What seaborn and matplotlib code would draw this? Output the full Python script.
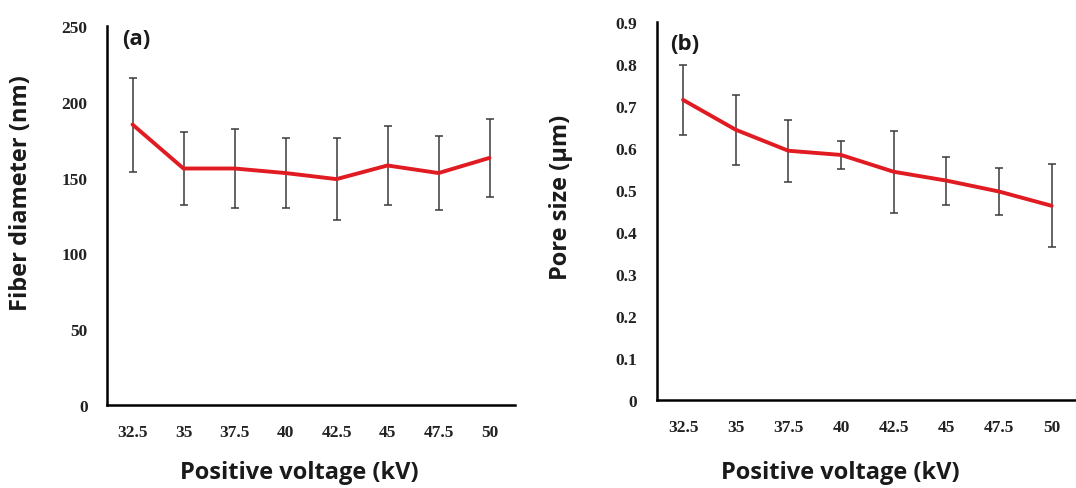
import matplotlib
matplotlib.use("Agg")
import matplotlib.pyplot as plt
import seaborn as sns
import numpy as np
import pandas as pd

voltage = [32.5, 35, 37.5, 40, 42.5, 45, 47.5, 50]
voltage_labels = ["32.5", "35", "37.5", "40", "42.5", "45", "47.5", "50"]

fiber_mean = [185, 156, 156, 153, 149, 158, 153, 163]
fiber_err = [31, 24, 26, 23, 27, 26, 24.5, 25.5]

pore_mean = [0.714, 0.643, 0.593, 0.583, 0.543, 0.522, 0.496, 0.462]
pore_err = [0.083, 0.083, 0.074, 0.034, 0.097, 0.057, 0.057, 0.099]

fiber_ticks = [0, 50, 100, 150, 200, 250]
pore_ticks = [0, 0.1, 0.2, 0.3, 0.4, 0.5, 0.6, 0.7, 0.8, 0.9]
pore_tick_labels = ["0", "0.1", "0.2", "0.3", "0.4", "0.5", "0.6", "0.7", "0.8", "0.9"]

sns.set_theme(style="white")
plt.rcParams['font.family'] = ['Liberation Serif', 'DejaVu Sans']

fig = plt.figure(figsize=(10.76, 4.89), dpi=100)
ax1 = fig.add_axes([107/1076, 83/489, 408/1076, 379/489])
ax2 = fig.add_axes([656.7/1076, 88/489, 421.3/1076, 378.3/489])

RED = "#e01b22"
ERR = "#3a3a3a"
label_font = dict(family="Open Sans", fontweight="bold", fontsize=17, color="#1a1a1a")
tick_font = dict(family="Liberation Serif", fontweight="bold", fontsize=12.5, color="#222222")

def draw(ax, mean, err, ylim, yticks, yticklabels, ylabel, panel, ylab_pos, xlab_pos, panel_pos):
    df = pd.DataFrame({"v": voltage, "m": mean})
    ax.errorbar(voltage, mean, yerr=err, fmt="none", ecolor=ERR, elinewidth=1.1,
                capsize=3, capthick=1.1, zorder=2)
    sns.lineplot(data=df, x="v", y="m", ax=ax, color=RED, linewidth=2.8, zorder=3)
    ax.set_xlim(voltage[0] - 1.25, voltage[-1] + 1.25)
    ax.set_ylim(*ylim)
    ax.set_xticks(voltage)
    ax.set_xticklabels(voltage_labels, **tick_font)
    ax.set_yticks(yticks)
    ax.set_yticklabels(yticklabels, **tick_font)
    ax.tick_params(axis="both", length=0, pad=14)
    for s in ["top", "right"]:
        ax.spines[s].set_visible(False)
    for s in ["left", "bottom"]:
        ax.spines[s].set_color("black")
        ax.spines[s].set_linewidth(1.8)
    ax.set_ylabel(ylabel, **label_font)
    ax.yaxis.set_label_coords(*ylab_pos)
    ax.set_xlabel("Positive voltage (kV)", **label_font)
    ax.xaxis.set_label_coords(*xlab_pos)
    ax.xaxis.label.set_verticalalignment("top")
    ax.text(panel_pos[0], panel_pos[1], panel, transform=ax.transAxes,
            family="Open Sans", fontweight="bold", fontsize=16, ha="left", va="top", color="#1a1a1a")
    ax.grid(False)

draw(ax1, fiber_mean, fiber_err, (0, 250), fiber_ticks, [str(t) for t in fiber_ticks],
     "Fiber diameter (nm)", "(a)", (-0.181, 0.563), (0.472, -0.145), (0.037, 0.995))
draw(ax2, pore_mean, pore_err, (0, 0.9), pore_ticks, pore_tick_labels,
     "Pore size (µm)", "(b)", (-0.199, 0.539), (0.436, -0.158), (0.032, 0.97))

fig.savefig("out.png", dpi=100)
